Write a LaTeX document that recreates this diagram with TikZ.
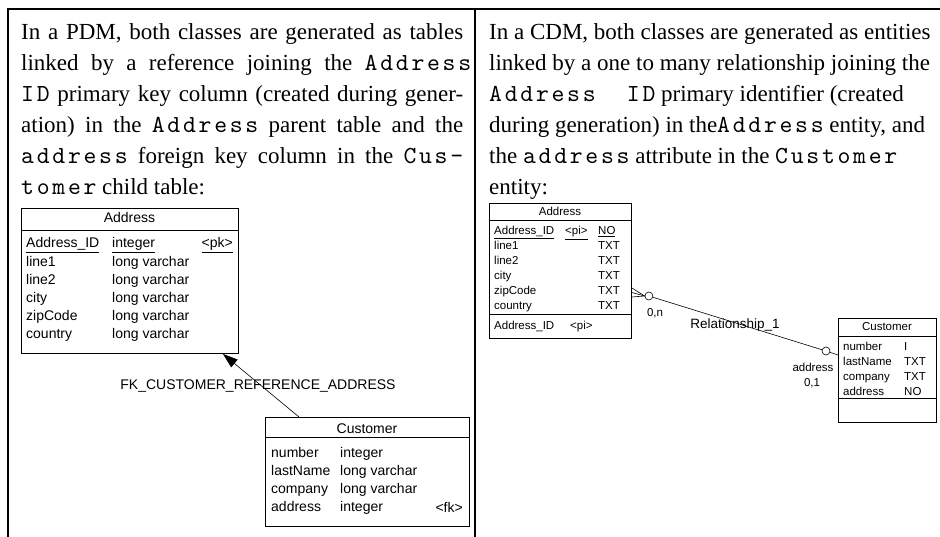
\documentclass[tikz,border=0pt]{standalone}
\usepackage{fontspec}
\setmainfont{Liberation Serif}
\newfontfamily\diafont{Liberation Sans}
\newfontfamily\codefont{lmmono10-regular}[Extension=.otf, LetterSpace=11.2]
\usepackage{tikz}
\usetikzlibrary{arrows.meta, calc, positioning}
\newcommand{\cw}[1]{{\codefont\fontsize{24.5}{31}\selectfont #1}}

\begin{document}
\begin{tikzpicture}[x=1pt, y=-1pt,
        frame/.style={line width=2.5pt},
        txtline/.style={anchor=base west, inner sep=0pt,
                        font=\fontsize{23}{31}\selectfont},
        tbl/.style={draw, line width=0.9pt, anchor=north west, inner sep=0pt},
        bigcell/.style={anchor=base west, inner sep=0pt,
                        font=\diafont\fontsize{14}{16}\selectfont},
        smallcell/.style={anchor=base west, inner sep=0pt,
                          font=\diafont\fontsize{11.5}{13}\selectfont}]
    \useasboundingbox (0,0) rectangle (940,537);

    % page frame
    \draw[frame] (8,537) -- (8,9) -- (940,9);
    \draw[frame] (475,9) -- (475,537);

    % left column text
    \node[txtline] (pdm1) at (21,40)
          {\makebox[442pt][s]{In a PDM, both classes are generated as tables}};
    \node[txtline] (pdm2) at (21,71)
          {\makebox[450pt][s]{linked by a reference joining the \cw{Address}}};
    \node[txtline] (pdm3) at (21,102)
          {\makebox[442pt][s]{\cw{ID} primary key column (created during gener-}};
    \node[txtline] (pdm4) at (21,133)
          {\makebox[442pt][s]{ation) in the \cw{Address} parent table and the}};
    \node[txtline] (pdm5) at (21,164)
          {\makebox[442pt][s]{\cw{address} foreign key column in the \cw{Cus-}}};
    \node[txtline] (pdm6) at (21,195) {\cw{tomer} child table:};

    % right column text
    \node[txtline] (cdm1) at (489,40) {In a CDM, both classes are generated as entities};
    \node[txtline] (cdm2) at (489,71) {linked by a one to many relationship joining the};
    \node[txtline] (cdm3) at (489,102) {\cw{Address\ \ ID} primary identifier (created};
    \node[txtline] (cdm4) at (489,133) {during generation) in the\cw{Address} entity, and};
    \node[txtline] (cdm5) at (489,164) {the \cw{address} attribute in the \cw{Customer}};
    \node[txtline] (cdm6) at (489,195) {entity:};

    % PDM tables
    \node[tbl, minimum width=217, minimum height=145] (addrL) at (21,208) {};
    \node[bigcell, anchor=base] (addrLhead) at (129.5,223) {Address};
    \draw[line width=0.9pt] (21,230) -- (238,230);
    \node[bigcell] (addrLid) at (26,248) {\underline{Address\_ID}};
    \node[bigcell] (addrLidt) at (112,248) {\underline{integer}};
    \node[bigcell, anchor=base east] (addrLpk) at (233,248) {\underline{<pk>}};
    \foreach \n [count=\i] in {line1, line2, city, zipCode, country} {
        \node[bigcell] (addrLn\i) at (26, 248+18.2*\i) {\n};
        \node[bigcell] (addrLt\i) at (112, 248+18.2*\i) {long varchar};
    }

    \node[tbl, minimum width=204, minimum height=109] (custL) at (265,417) {};
    \node[bigcell, anchor=base] (custLhead) at (367,433) {Customer};
    \draw[line width=0.9pt] (265,437) -- (469,437);
    \foreach \n/\t [count=\i from 0] in {number/integer, lastName/long varchar,
                                         company/long varchar, address/integer} {
        \node[bigcell] (custLn\i) at (271, 457+18.3*\i) {\n};
        \node[bigcell] (custLt\i) at (340, 457+18.3*\i) {\t};
    }
    \node[bigcell, anchor=base east] (custLfk) at (463,512) {<fk>};

    \draw[-{Triangle[length=15pt, width=10pt]}, line width=0.6pt]
          ($(custL.north west)+(34,0)$) -- ($(addrL.south east)+(-16,0)$);
    \node[bigcell, anchor=base] (fkname) at (258,389)
          {FK\_CUSTOMER\_REFERENCE\_ADDRESS};

    % CDM entities
    \node[tbl, minimum width=142, minimum height=135] (addrR) at (489,203) {};
    \node[smallcell, anchor=base] (addrRhead) at (560,216) {Address};
    \draw[line width=0.9pt] (489,220) -- (631,220);
    \node[smallcell] (addrRid) at (494,235) {\underline{Address\_ID}};
    \node[smallcell] (addrRpi) at (565,235) {\underline{<pi>}};
    \node[smallcell] (addrRno) at (598,235) {\underline{NO}};
    \foreach \n [count=\i] in {line1, line2, city, zipCode, country} {
        \node[smallcell] (addrRn\i) at (494, 235+15*\i) {\n};
        \node[smallcell] (addrRt\i) at (598, 235+15*\i) {TXT};
    }
    \draw[line width=0.9pt] (489,314) -- (631,314);
    \node[smallcell] (addrRkey) at (494,330) {Address\_ID};
    \node[smallcell] (addrRkpi) at (570,330) {<pi>};

    \node[tbl, minimum width=98, minimum height=104] (custR) at (838,318) {};
    \node[smallcell, anchor=base] (custRhead) at (887,331) {Customer};
    \draw[line width=0.9pt] (838,336) -- (936,336);
    \foreach \n/\t [count=\i from 0] in {number/I, lastName/TXT,
                                         company/TXT, address/NO} {
        \node[smallcell] (custRn\i) at (843, 351+14.7*\i) {\n};
        \node[smallcell] (custRt\i) at (904, 351+14.7*\i) {\t};
    }
    \draw[line width=0.9pt] (838,398) -- (936,398);

    % relationship
    \node[circle, draw, line width=0.6pt, minimum size=8, inner sep=0pt] (optA)
          at ($(addrR.north east)+(17,93)$) {};
    \node[circle, draw, line width=0.6pt, minimum size=8, inner sep=0pt] (optB)
          at ($(custR.north west)+(-12,33)$) {};
    \draw[line width=0.6pt] ($(addrR.north east)+(0,85)$) -- (optA.west);
    \draw[line width=0.6pt] ($(addrR.north east)+(0,89.5)$) -- (optA.west);
    \draw[line width=0.6pt] ($(addrR.north east)+(0,94)$) -- (optA.west);
    \draw[line width=0.6pt] (optA) -- (optB);
    \draw[line width=0.6pt] (optB) -- ($(custR.north west)+(0,37)$);

    \node[smallcell, anchor=base] (cardA) at (655,317) {0,n};
    \node[smallcell, anchor=base, font=\diafont\fontsize{13.5}{15}\selectfont]
          (relname) at (735,329) {Relationship\_1};
    \node[smallcell, anchor=base] (roleB) at (813,371) {address};
    \node[smallcell, anchor=base] (cardB) at (812,386) {0,1};
\end{tikzpicture}
\end{document}
